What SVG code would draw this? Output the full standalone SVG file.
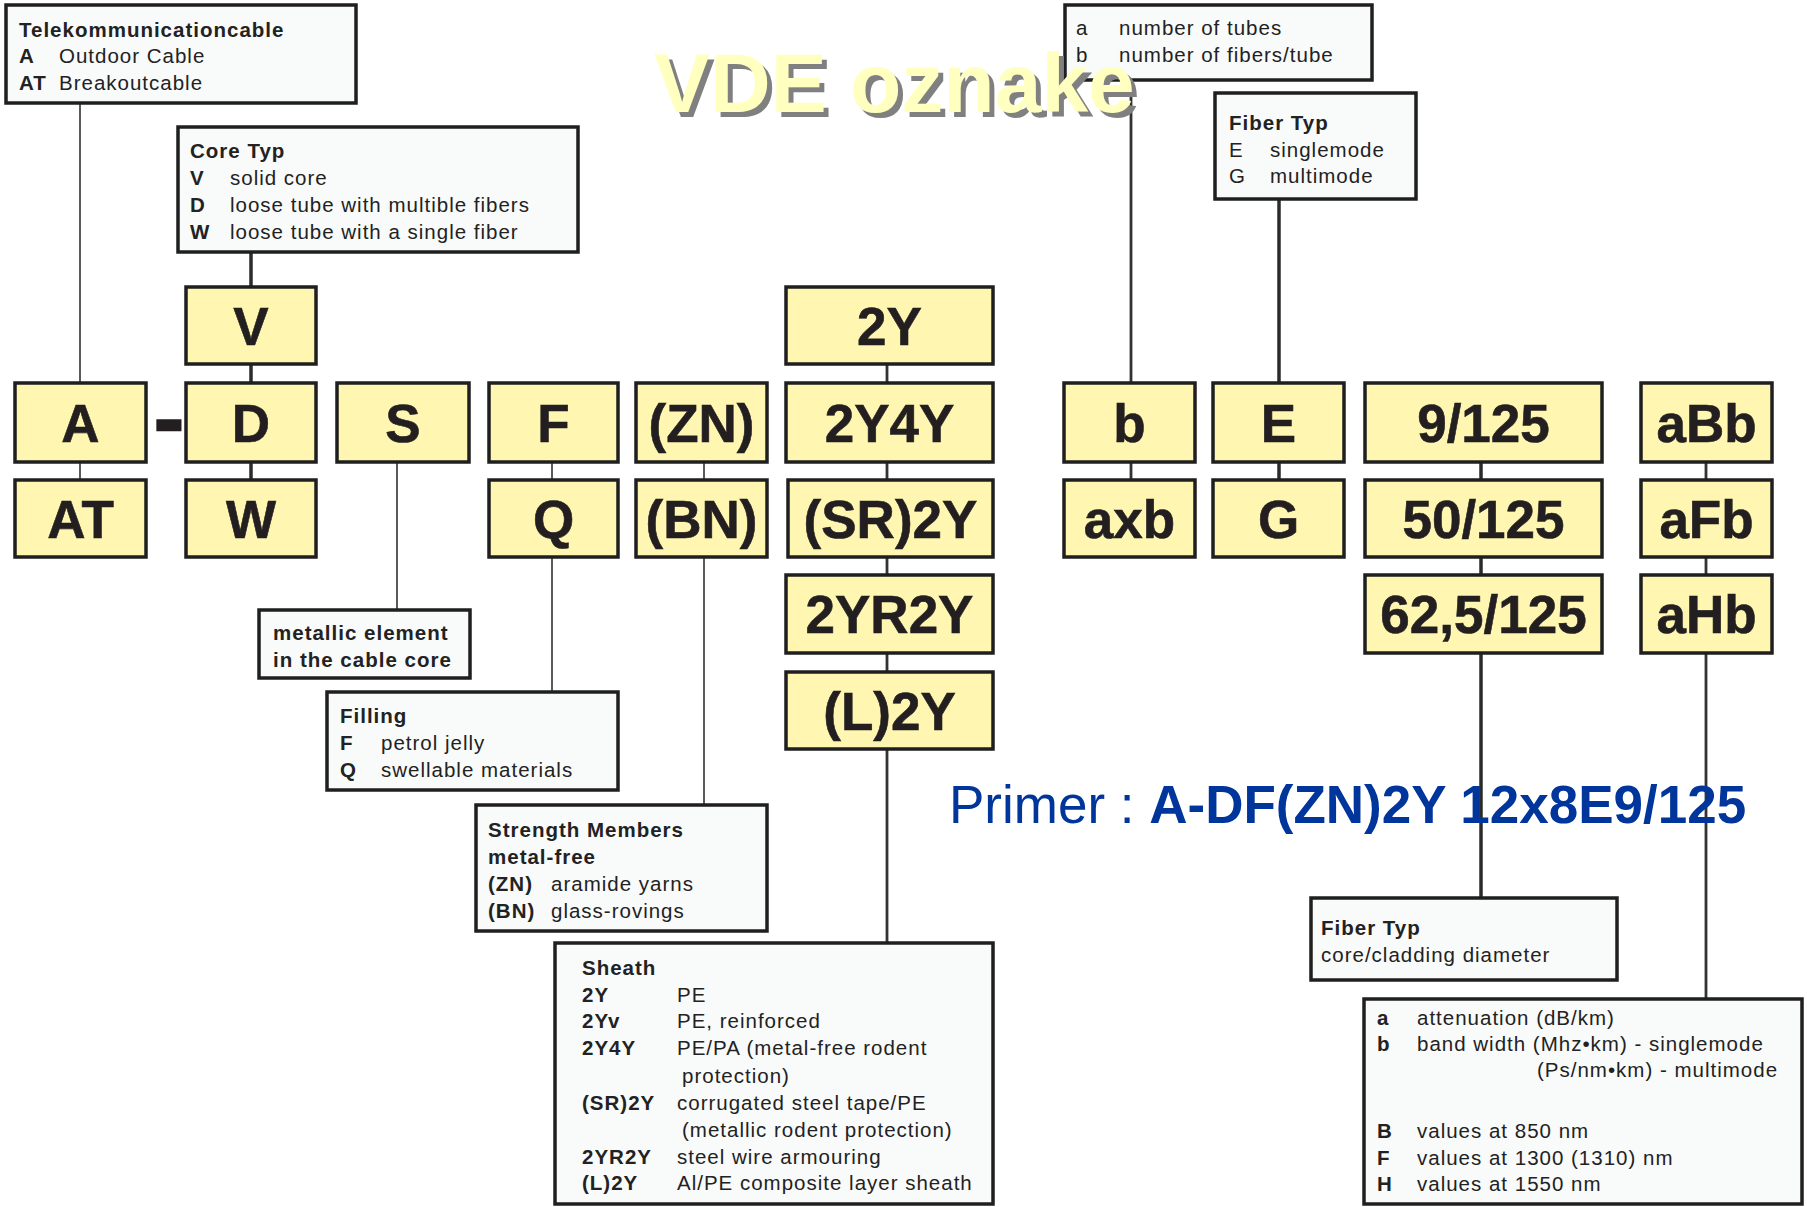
<svg xmlns="http://www.w3.org/2000/svg" width="1807" height="1207" viewBox="0 0 1807 1207">
<style>
.node rect{fill:#fff7b1;stroke:#1f1f1f;stroke-width:3.5}
.node text{font-family:"Liberation Sans",Arial,sans-serif;font-weight:bold;font-size:53px;text-anchor:middle;fill:#231f20;stroke:#231f20;stroke-width:0.6}
.legend rect{fill:#f9fafa;stroke:#1f1f1f;stroke-width:3.5}
.legend text{font-family:"Liberation Sans",Arial,sans-serif;font-size:20.5px;letter-spacing:1px;fill:#222}
.b{font-weight:bold}
.thin{stroke:#5a5a5a;stroke-width:2;fill:none}
.thick{stroke:#2b2b2b;stroke-width:3.5;fill:none}
.med{stroke:#333;stroke-width:2.8;fill:none}
.title{font-family:"Liberation Sans",Arial,sans-serif;font-weight:bold;font-size:84px}
</style>
<rect x="0" y="0" width="1807" height="1207" fill="#ffffff"/>

<g id="connectors">
<line class="thin" x1="80" y1="103" x2="80" y2="383"/>
<line class="thin" x1="80" y1="462" x2="80" y2="480"/>
<line class="thick" x1="251" y1="252" x2="251" y2="287"/>
<line class="thick" x1="251" y1="364" x2="251" y2="383"/>
<line class="thick" x1="251" y1="462" x2="251" y2="480"/>
<line class="thin" x1="397" y1="462" x2="397" y2="610"/>
<line class="thin" x1="552" y1="462" x2="552" y2="480"/>
<line class="thin" x1="552" y1="557" x2="552" y2="692"/>
<line class="thin" x1="704" y1="462" x2="704" y2="480"/>
<line class="thin" x1="704" y1="557" x2="704" y2="805"/>
<line class="med" x1="887" y1="364" x2="887" y2="383"/>
<line class="med" x1="887" y1="462" x2="887" y2="480"/>
<line class="med" x1="887" y1="557" x2="887" y2="575"/>
<line class="med" x1="887" y1="653" x2="887" y2="672"/>
<line class="med" x1="887" y1="749" x2="887" y2="943"/>
<line class="med" x1="1131" y1="80" x2="1131" y2="383"/>
<line class="med" x1="1131" y1="462" x2="1131" y2="480"/>
<line class="thick" x1="1279" y1="199" x2="1279" y2="383"/>
<line class="thick" x1="1279" y1="462" x2="1279" y2="480"/>
<line class="thick" x1="1481" y1="462" x2="1481" y2="480"/>
<line class="thick" x1="1481" y1="557" x2="1481" y2="575"/>
<line class="thick" x1="1481" y1="653" x2="1481" y2="898"/>
<line class="med" x1="1706" y1="462" x2="1706" y2="480"/>
<line class="med" x1="1706" y1="557" x2="1706" y2="575"/>
<line class="med" x1="1706" y1="653" x2="1706" y2="999"/>
</g>

<g id="legend-telekom" class="legend">
<rect x="6" y="5" width="350" height="98"/>
<text x="19" y="37" class="b">Telekommunicationcable</text>
<text y="63"><tspan x="19" class="b">A</tspan><tspan x="59">Outdoor Cable</tspan></text>
<text y="90"><tspan x="19" class="b">AT</tspan><tspan x="59">Breakoutcable</tspan></text>
</g>

<g id="legend-coretyp" class="legend">
<rect x="178" y="127" width="400" height="125"/>
<text x="190" y="158" class="b">Core Typ</text>
<text y="185"><tspan x="190" class="b">V</tspan><tspan x="230">solid core</tspan></text>
<text y="212"><tspan x="190" class="b">D</tspan><tspan x="230">loose tube with multible fibers</tspan></text>
<text y="239"><tspan x="190" class="b">W</tspan><tspan x="230">loose tube with a single fiber</tspan></text>
</g>

<g id="legend-tubes" class="legend">
<rect x="1065" y="5" width="307" height="75"/>
<text y="35"><tspan x="1076">a</tspan><tspan x="1119">number of tubes</tspan></text>
<text y="62"><tspan x="1076">b</tspan><tspan x="1119">number of fibers/tube</tspan></text>
</g>

<g id="legend-fibertyp" class="legend">
<rect x="1215" y="93" width="201" height="106"/>
<text x="1229" y="130" class="b">Fiber Typ</text>
<text y="157"><tspan x="1229">E</tspan><tspan x="1270">singlemode</tspan></text>
<text y="183"><tspan x="1229">G</tspan><tspan x="1270">multimode</tspan></text>
</g>

<g id="legend-metallic" class="legend">
<rect x="259" y="610" width="211" height="68"/>
<text x="273" y="640" class="b">metallic element</text>
<text x="273" y="667" class="b">in the cable core</text>
</g>

<g id="legend-filling" class="legend">
<rect x="327" y="692" width="291" height="98"/>
<text x="340" y="723" class="b">Filling</text>
<text y="750"><tspan x="340" class="b">F</tspan><tspan x="381">petrol jelly</tspan></text>
<text y="777"><tspan x="340" class="b">Q</tspan><tspan x="381">swellable materials</tspan></text>
</g>

<g id="legend-strength" class="legend">
<rect x="476" y="805" width="291" height="126"/>
<text x="488" y="837" class="b">Strength Members</text>
<text x="488" y="864" class="b">metal-free</text>
<text y="891"><tspan x="488" class="b">(ZN)</tspan><tspan x="551">aramide yarns</tspan></text>
<text y="918"><tspan x="488" class="b">(BN)</tspan><tspan x="551">glass-rovings</tspan></text>
</g>

<g id="legend-sheath" class="legend">
<rect x="555" y="943" width="438" height="261"/>
<text x="582" y="975" class="b">Sheath</text>
<text y="1002"><tspan x="582" class="b">2Y</tspan><tspan x="677">PE</tspan></text>
<text y="1028"><tspan x="582" class="b">2Yv</tspan><tspan x="677">PE, reinforced</tspan></text>
<text y="1055"><tspan x="582" class="b">2Y4Y</tspan><tspan x="677">PE/PA (metal-free rodent</tspan></text>
<text x="682" y="1083">protection)</text>
<text y="1110"><tspan x="582" class="b">(SR)2Y</tspan><tspan x="677">corrugated steel tape/PE</tspan></text>
<text x="682" y="1137">(metallic rodent protection)</text>
<text y="1164"><tspan x="582" class="b">2YR2Y</tspan><tspan x="677">steel wire armouring</tspan></text>
<text y="1190"><tspan x="582" class="b">(L)2Y</tspan><tspan x="677">Al/PE composite layer sheath</tspan></text>
</g>

<g id="legend-diameter" class="legend">
<rect x="1311" y="898" width="306" height="82"/>
<text x="1321" y="935" class="b">Fiber Typ</text>
<text x="1321" y="962">core/cladding diameter</text>
</g>

<g id="legend-values" class="legend">
<rect x="1364" y="999" width="438" height="205"/>
<text y="1025"><tspan x="1377" class="b">a</tspan><tspan x="1417">attenuation (dB/km)</tspan></text>
<text y="1051"><tspan x="1377" class="b">b</tspan><tspan x="1417">band width (Mhz•km) - singlemode</tspan></text>
<text x="1537" y="1077">(Ps/nm•km) - multimode</text>
<text y="1138"><tspan x="1377" class="b">B</tspan><tspan x="1417">values at 850 nm</tspan></text>
<text y="1165"><tspan x="1377" class="b">F</tspan><tspan x="1417">values at 1300 (1310) nm</tspan></text>
<text y="1191"><tspan x="1377" class="b">H</tspan><tspan x="1417">values at 1550 nm</tspan></text>
</g>

<g id="node-A" class="node"><rect x="15" y="383" width="131" height="79"/><text x="80.5" y="442">A</text></g>
<g id="node-AT" class="node"><rect x="15" y="480" width="131" height="77"/><text x="80.5" y="538">AT</text></g>
<g id="dash" class="node"><text x="169" y="450" style="font-size:96px">-</text></g>
<g id="node-V" class="node"><rect x="186" y="287" width="130" height="77"/><text x="251" y="345">V</text></g>
<g id="node-D" class="node"><rect x="186" y="383" width="130" height="79"/><text x="251" y="442">D</text></g>
<g id="node-W" class="node"><rect x="186" y="480" width="130" height="77"/><text x="251" y="538">W</text></g>
<g id="node-S" class="node"><rect x="337" y="383" width="132" height="79"/><text x="403" y="442">S</text></g>
<g id="node-F" class="node"><rect x="489" y="383" width="129" height="79"/><text x="553.5" y="442">F</text></g>
<g id="node-Q" class="node"><rect x="489" y="480" width="129" height="77"/><text x="553.5" y="538">Q</text></g>
<g id="node-ZN" class="node"><rect x="636" y="383" width="131" height="79"/><text x="701.5" y="442">(ZN)</text></g>
<g id="node-BN" class="node"><rect x="636" y="480" width="131" height="77"/><text x="701.5" y="538">(BN)</text></g>
<g id="node-2Y" class="node"><rect x="786" y="287" width="207" height="77"/><text x="889.5" y="345">2Y</text></g>
<g id="node-2Y4Y" class="node"><rect x="786" y="383" width="207" height="79"/><text x="889.5" y="442">2Y4Y</text></g>
<g id="node-SR2Y" class="node"><rect x="788" y="480" width="205" height="77"/><text x="890.5" y="538">(SR)2Y</text></g>
<g id="node-2YR2Y" class="node"><rect x="786" y="575" width="207" height="78"/><text x="889.5" y="633">2YR2Y</text></g>
<g id="node-L2Y" class="node"><rect x="786" y="672" width="207" height="77"/><text x="889.5" y="730">(L)2Y</text></g>
<g id="node-b" class="node"><rect x="1064" y="383" width="131" height="79"/><text x="1129.5" y="442">b</text></g>
<g id="node-axb" class="node"><rect x="1064" y="480" width="131" height="77"/><text x="1129.5" y="538">axb</text></g>
<g id="node-E" class="node"><rect x="1213" y="383" width="131" height="79"/><text x="1278.5" y="442">E</text></g>
<g id="node-G" class="node"><rect x="1213" y="480" width="131" height="77"/><text x="1278.5" y="538">G</text></g>
<g id="node-9-125" class="node"><rect x="1365" y="383" width="237" height="79"/><text x="1483.5" y="442">9/125</text></g>
<g id="node-50-125" class="node"><rect x="1365" y="480" width="237" height="77"/><text x="1483.5" y="538">50/125</text></g>
<g id="node-62-125" class="node"><rect x="1365" y="575" width="237" height="78"/><text x="1483.5" y="633">62,5/125</text></g>
<g id="node-aBb" class="node"><rect x="1641" y="383" width="131" height="79"/><text x="1706.5" y="442">aBb</text></g>
<g id="node-aFb" class="node"><rect x="1641" y="480" width="131" height="77"/><text x="1706.5" y="538">aFb</text></g>
<g id="node-aHb" class="node"><rect x="1641" y="575" width="131" height="78"/><text x="1706.5" y="633">aHb</text></g>

<g id="title">
<text class="title" x="659" y="117" fill="#808080">VDE oznake</text>
<text class="title" x="654" y="112" fill="#ffffc0">VDE oznake</text>
</g>

<g id="example">
<text x="949" y="823" xml:space="preserve" style="font-family:'Liberation Sans',Arial,sans-serif;font-size:53px" fill="#00359c"><tspan>Primer : </tspan><tspan font-weight="bold">A-DF(ZN)2Y 12x8E9/125</tspan></text>
</g>
</svg>
